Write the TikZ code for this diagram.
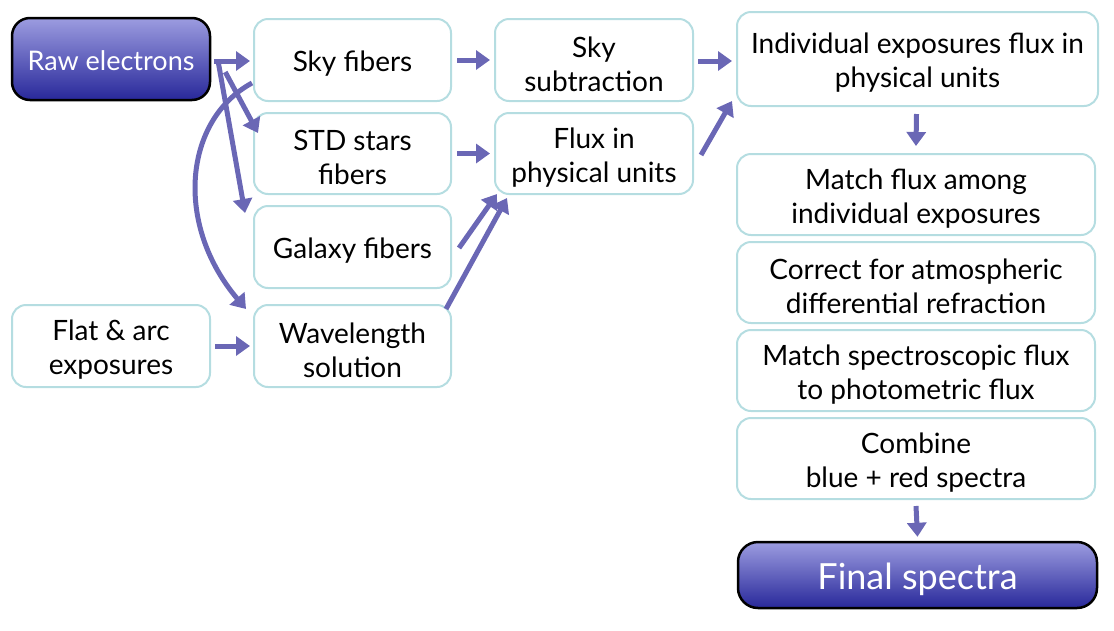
\documentclass[tikz,border=0pt]{standalone}
\usepackage{fontspec}
\setmainfont{Lato}
\usetikzlibrary{arrows.meta,calc}
\definecolor{arrowc}{HTML}{6A67B5}
\definecolor{boxc}{HTML}{B5DDE1}
\definecolor{topc}{HTML}{9C9CE0}
\definecolor{botc}{HTML}{28289A}
\tikzset{
  box/.style={draw=boxc, line width=2pt, fill=white, rounded corners=14pt, inner sep=0pt},
  txt/.style={label={[align=center, font=\fontsize{28}{34}\selectfont, inner sep=0pt, yshift=-4pt]center:#1}},
  darkbox/.style={draw=black, line width=2.5pt, top color=topc, bottom color=botc,
    rounded corners=18pt, inner sep=0pt},
  wtxt/.style 2 args={label={[text=white, font=\fontsize{#1}{#1}\selectfont, inner sep=0pt, yshift=#2]center:#1}},
  arr/.style={draw=arrowc, line width=5pt, -{Triangle[width=19pt,length=14pt]}},
}
\begin{document}
\begin{tikzpicture}[x=1pt,y=-1pt]
\useasboundingbox (0,0) rectangle (1114,630);
% left column
\node[darkbox, minimum width=198pt, minimum height=82pt,
  label={[text=white, font=\fontsize{27}{32}\selectfont, inner sep=0pt, yshift=-2pt]center:Raw electrons}] (raw) at (111,59) {};
\node[box, minimum width=198pt, minimum height=82pt, txt={Flat \& arc\\exposures}] (flat) at (111,346) {};
% second column
\node[box, minimum width=197pt, minimum height=82pt, txt={Sky fibers}] (sky) at (352.5,60) {};
\node[box, minimum width=197pt, minimum height=81pt, txt={STD stars\\fibers}] (std) at (352.5,153.5) {};
\node[box, minimum width=197pt, minimum height=82pt, txt={Galaxy fibers}] (gal) at (352.5,247) {};
\node[box, minimum width=197pt, minimum height=82pt, txt={Wavelength\\solution}] (wave) at (352.5,346) {};
% third column
\node[box, minimum width=198pt, minimum height=82pt, txt={Sky\\subtraction}] (skysub) at (594,60) {};
\node[box, minimum width=198pt, minimum height=81pt, txt={Flux in\\physical units}] (flux) at (594,153.5) {};
% right column
\node[box, minimum width=361pt, minimum height=94pt, txt={Individual exposures flux in\\physical units}] (indiv) at (917.5,59) {};
\node[box, minimum width=358pt, minimum height=81pt, txt={Match flux among\\individual exposures}] (match) at (916,194.5) {};
\node[box, minimum width=358pt, minimum height=81pt, txt={Correct for atmospheric\\differential refraction}] (adr) at (916,282.5) {};
\node[box, minimum width=358pt, minimum height=81pt, txt={Match spectroscopic flux\\to photometric flux}] (phot) at (916,370.5) {};
\node[box, minimum width=358pt, minimum height=81pt, txt={Combine\\blue + red spectra}] (comb) at (916,458.5) {};
\node[darkbox, minimum width=359pt, minimum height=66pt, rounded corners=20pt,
  label={[text=white, font=\fontsize{36}{40}\selectfont, inner sep=0pt, yshift=-4pt]center:Final spectra}] (final) at (917.5,575) {};
% connectors
\draw[arr] ([xshift=3pt,yshift=-2pt]raw.east) -- ([xshift=-3pt,yshift=-1pt]sky.west);
\draw[arr] ([xshift=14pt,yshift=-13pt]raw.east) -- ([xshift=5pt,yshift=-21pt]std.north west);
\draw[arr] ([xshift=7pt,yshift=-3pt]raw.east) -- ([xshift=-8pt,yshift=-8pt]gal.north west);
\draw[arr] ([xshift=-1pt,yshift=-23pt]sky.west) .. controls +(-68pt,-37pt) and +(-72pt,85pt) .. ([xshift=-7pt,yshift=-5pt]wave.north west);
\draw[arr] ([xshift=5pt]sky.east) -- ([xshift=-4pt]skysub.west);
\draw[arr] ([xshift=5pt]std.east) -- ([xshift=-4pt]flux.west);
\draw[arr] ([xshift=7pt,yshift=-1pt]gal.east) -- ([xshift=3pt,yshift=1pt]flux.south west);
\draw[arr] ([xshift=-6pt,yshift=-5pt]wave.north east) -- ([xshift=13pt,yshift=-3pt]flux.south west);
\draw[arr] ([xshift=4pt]flat.east) -- ([xshift=-3pt]wave.west);
\draw[arr] ([xshift=4pt,yshift=-1pt]skysub.east) -- ([xshift=-4pt,yshift=-2pt]indiv.west);
\draw[arr] ([xshift=7pt,yshift=-1.5pt]flux.east) -- ([xshift=-4pt,yshift=6pt]indiv.south west);
\draw[arr] ([xshift=-1pt,yshift=-7pt]indiv.south) -- ([yshift=7pt]match.north);
\draw[arr] ([yshift=-6pt]comb.south) -- ([yshift=4pt]final.north);
\end{tikzpicture}
\end{document}
